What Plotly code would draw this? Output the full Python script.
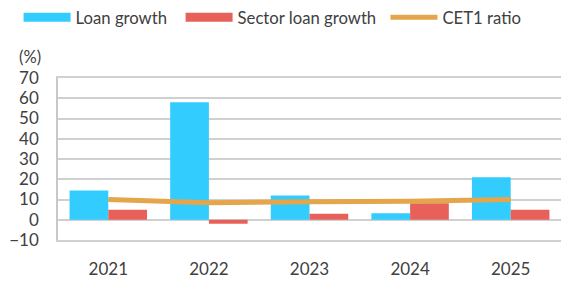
import plotly.graph_objects as go

years = ["2021", "2022", "2023", "2024", "2025"]
loan_growth = [14.5, 58, 12, 3.2, 21]
sector_loan_growth = [5, -2, 3, 8.1, 5]
cet1_ratio = [10, 8.4, 8.9, 9.1, 10]

C_LOAN = "#33CCFF"
C_SECTOR = "#E8605A"
C_CET1 = "#E5A54B"
FONT = "Lato"
TXT = "#404040"
GRID = "#D0D0D0"
NB = "\u00a0"

fig = go.Figure()
fig.add_trace(go.Bar(x=years, y=loan_growth, name="Loan growth", marker_color=C_LOAN,
                     marker_line_width=0, showlegend=False))
fig.add_trace(go.Bar(x=years, y=sector_loan_growth, name="Sector loan growth", marker_color=C_SECTOR,
                     marker_line_width=0, showlegend=False))
fig.add_trace(go.Scatter(x=years, y=cet1_ratio, name="CET1 ratio", mode="lines",
                         line=dict(color=C_CET1, width=5), showlegend=False))
# legend entries
fig.add_trace(go.Scatter(x=[None], y=[None], name="Loan growth" + NB * 2, mode="lines",
                         line=dict(color=C_LOAN, width=9)))
fig.add_trace(go.Scatter(x=[None], y=[None], name="Sector loan growth" + NB, mode="lines",
                         line=dict(color=C_SECTOR, width=9)))
fig.add_trace(go.Scatter(x=[None], y=[None], name="CET1 ratio", mode="lines",
                         line=dict(color=C_CET1, width=5)))

fig.update_layout(
    width=563, height=281,
    margin=dict(l=58, r=2, t=78, b=38),
    paper_bgcolor="white", plot_bgcolor="white",
    font=dict(family=FONT, size=16, color=TXT),
    barmode="group", bargap=0.23, bargroupgap=0,
    legend=dict(orientation="h", xref="container", yref="container",
                x=0.033, y=1.0, xanchor="left", yanchor="top",
                font=dict(size=16.7, color=TXT), itemwidth=47,
                bgcolor="rgba(0,0,0,0)"),
    xaxis=dict(showgrid=False, showline=True, mirror=True, linecolor=GRID, linewidth=1.5,
               ticks="", ticklabelstandoff=13, tickfont=dict(size=17, color=TXT)),
    yaxis=dict(range=[-10, 70], dtick=10, showgrid=True, gridcolor=GRID, gridwidth=1.5,
               zeroline=False, showline=True, linecolor="#C8C8C8", linewidth=1.5,
               ticks="", ticklabelstandoff=14, tickfont=dict(size=17, color=TXT)),
    annotations=[dict(text="(%)", xref="paper", yref="paper", x=-0.056, y=1.056,
                      xanchor="center", yanchor="bottom", showarrow=False,
                      font=dict(size=16.5, color=TXT))],
)

fig.write_html("out.html", config={"displayModeBar": False},
               post_script="document.body.style.margin='0';")
